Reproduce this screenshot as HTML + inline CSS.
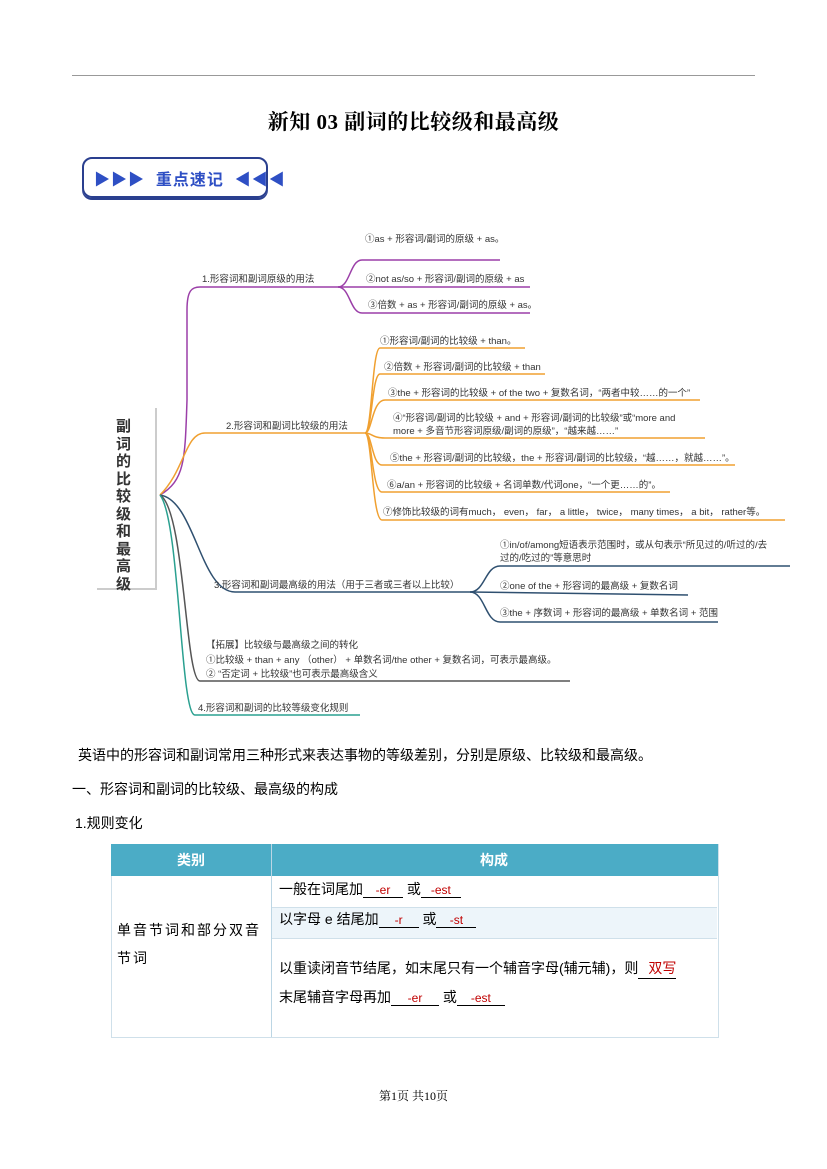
<!DOCTYPE html>
<html><head><meta charset="utf-8"><style>
body{margin:0;background:#fff;}
#p{position:relative;width:827px;height:1169px;overflow:hidden;font-family:"Liberation Sans","Noto Sans CJK SC",sans-serif;color:#000;}
.a{position:absolute;white-space:nowrap;}
.m{font-size:9.5px;color:#333;}
.s{font-family:"Liberation Serif","Noto Serif CJK SC",serif;}
.r{color:#c00000;font-size:12px;}
.u{border-bottom:1px solid #000;display:inline-block;text-align:center;}
</style></head><body><div id="p">
<div class="a" style="left:72px;top:75px;width:683px;height:1px;background:#999"></div>
<div class="a s" style="left:0;width:827px;top:106px;text-align:center;font-size:21px;font-weight:bold;letter-spacing:0.5px;">新知 03 副词的比较级和最高级</div>
<div class="a" style="left:82px;top:157px;width:182px;height:37px;border:2px solid #2a3f8f;border-radius:10px;box-shadow:0 2px 0 #2a3f8f;"></div>
<div class="a" style="left:94px;top:166px;font-size:16px;font-weight:bold;color:#2e4fc4;letter-spacing:1px;">▶▶▶&nbsp; 重点速记 &nbsp;◀◀◀</div>

<div class="a" style="left:97px;top:408px;width:58px;height:180px;border-right:2px solid #ccc;border-bottom:2px solid #ccc;"></div>
<div class="a" style="left:116px;top:418px;width:20px;font-size:15px;line-height:17.5px;font-weight:bold;color:#333;white-space:normal;">副词的比较级和最高级</div>

<svg class="a" style="left:0;top:0" width="827" height="1169" fill="none" stroke-width="1.5">
<g stroke="#9b3fa8"><path d="M160 495 C185 480 185 460 187 400 L187 310 C187 290 192 287 200 287 L338 287"/>
<path d="M338 287 C350 287 350 260 362 260 L500 260"/><path d="M338 287 L530 287"/><path d="M338 287 C350 287 350 313 362 313 L530 313"/></g>
<g stroke="#f0a030"><path d="M160 495 C185 470 185 433 205 433 L365 433"/>
<path d="M365 433 C372 433 372 348 380 348 L525 348"/>
<path d="M365 433 C372 433 372 374 380 374 L545 374"/>
<path d="M365 433 C372 433 372 400 385 400 L700 400"/>
<path d="M365 433 C372 433 372 438 385 438 L705 438"/>
<path d="M365 433 C372 433 372 465 382 465 L735 465"/>
<path d="M365 433 C372 433 372 492 382 492 L670 492"/>
<path d="M365 433 C372 433 372 520 382 520 L785 520"/></g>
<g stroke="#2f5070"><path d="M160 495 C195 500 200 592 235 592 L470 592"/>
<path d="M470 592 C485 592 485 566 500 566 L790 566"/><path d="M470 592 L688 595"/><path d="M470 592 C485 592 485 622 500 622 L718 622"/></g>
<g stroke="#555"><path d="M160 495 C185 510 185 681 200 681 L570 681"/></g>
<g stroke="#2aa090"><path d="M160 495 C180 520 180 715 195 715 L360 715"/></g>
</svg>

<div class="a m" style="left:365px;top:231px">①as + 形容词/副词的原级 + as。</div>
<div class="a m" style="left:202px;top:271px">1.形容词和副词原级的用法</div>
<div class="a m" style="left:366px;top:271px">②not as/so + 形容词/副词的原级 + as</div>
<div class="a m" style="left:368px;top:297px">③倍数 + as + 形容词/副词的原级 + as。</div>
<div class="a m" style="left:380px;top:333px">①形容词/副词的比较级 + than。</div>
<div class="a m" style="left:384px;top:359px">②倍数 + 形容词/副词的比较级 + than</div>
<div class="a m" style="left:388px;top:385px">③the + 形容词的比较级 + of the two + 复数名词，“两者中较……的一个”</div>
<div class="a m" style="left:393px;top:410px">④“形容词/副词的比较级 + and + 形容词/副词的比较级”或“more and</div>
<div class="a m" style="left:393px;top:423px">more + 多音节形容词原级/副词的原级”，“越来越……”</div>
<div class="a m" style="left:226px;top:418px">2.形容词和副词比较级的用法</div>
<div class="a m" style="left:390px;top:450px">⑤the + 形容词/副词的比较级，the + 形容词/副词的比较级，“越……，就越……”。</div>
<div class="a m" style="left:387px;top:477px">⑥a/an + 形容词的比较级 + 名词单数/代词one，“一个更……的”。</div>
<div class="a m" style="left:383px;top:504px">⑦修饰比较级的词有much， even， far， a little， twice， many times， a bit， rather等。</div>
<div class="a m" style="left:500px;top:537px">①in/of/among短语表示范围时，或从句表示“所见过的/听过的/去</div>
<div class="a m" style="left:500px;top:550px">过的/吃过的”等意思时</div>
<div class="a m" style="left:214px;top:577px">3.形容词和副词最高级的用法（用于三者或三者以上比较）</div>
<div class="a m" style="left:500px;top:578px">②one of the  + 形容词的最高级 + 复数名词</div>
<div class="a m" style="left:500px;top:605px">③the + 序数词 + 形容词的最高级 + 单数名词 + 范围</div>
<div class="a m" style="left:206px;top:637px">【拓展】比较级与最高级之间的转化</div>
<div class="a m" style="left:206px;top:652px">①比较级 + than + any （other） + 单数名词/the other + 复数名词，可表示最高级。</div>
<div class="a m" style="left:206px;top:666px">② “否定词 + 比较级”也可表示最高级含义</div>
<div class="a m" style="left:198px;top:700px">4.形容词和副词的比较等级变化规则</div>

<div class="a" style="left:78px;top:745px;font-size:14px;">英语中的形容词和副词常用三种形式来表达事物的等级差别，分别是原级、比较级和最高级。</div>
<div class="a" style="left:72px;top:779px;font-size:14px;">一、形容词和副词的比较级、最高级的构成</div>
<div class="a" style="left:75px;top:813px;font-size:14px;">1.规则变化</div>

<div class="a" style="left:111px;top:844px;width:606px;height:192px;border:1px solid #cfe0ea;"></div>
<div class="a" style="left:111px;top:844px;width:607px;height:32px;background:#4bacc6;"></div>
<div class="a" style="left:111px;top:850px;width:160px;text-align:center;color:#fff;font-weight:bold;font-size:14px;">类别</div>
<div class="a" style="left:271px;top:850px;width:446px;text-align:center;color:#fff;font-weight:bold;font-size:14px;">构成</div>
<div class="a" style="left:271px;top:844px;width:1px;height:193px;background:#bcd6e4"></div>
<div class="a" style="left:272px;top:907px;width:445px;height:30px;background:#edf5fa;border-top:1px solid #cfe0ea;border-bottom:1px solid #cfe0ea;"></div>
<div class="a" style="left:117px;top:916px;font-size:14px;line-height:28px;letter-spacing:2px;white-space:normal;width:152px;">单音节词和部分双音节词</div>
<div class="a" style="left:279px;top:879px;font-size:14px;">一般在词尾加<span class="u r" style="width:40px">-er</span>&nbsp;或<span class="u r" style="width:40px">-est</span></div>
<div class="a" style="left:279px;top:909px;font-size:14px;">以字母 e 结尾加<span class="u r" style="width:40px">-r</span>&nbsp;或<span class="u r" style="width:40px">-st</span></div>
<div class="a" style="left:279px;top:958px;font-size:14px;">以重读闭音节结尾，如末尾只有一个辅音字母(辅元辅)，则<span class="u" style="color:#c00000;width:38px;text-align:right">双写</span></div>
<div class="a" style="left:279px;top:987px;font-size:14px;">末尾辅音字母再加<span class="u r" style="width:48px">-er</span>&nbsp;或<span class="u r" style="width:48px">-est</span></div>

<div class="a s" style="left:0;width:827px;top:1087px;text-align:center;font-size:12px;">第1页 共10页</div>
</div></body></html>
